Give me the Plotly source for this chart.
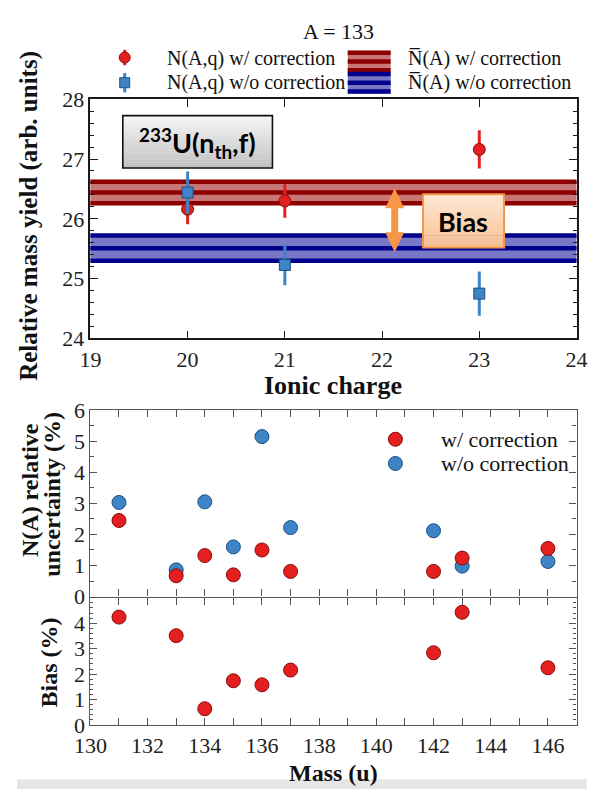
import plotly.graph_objects as go

# ---------------- data ----------------
charge = [20, 21, 23]
yield_corr = [26.16, 26.30, 27.16]
err_corr = [0.25, 0.28, 0.32]
yield_raw = [26.44, 25.23, 24.75]
err_raw = [0.35, 0.34, 0.37]

mean_corr, sig_corr = 26.44, 0.18
mean_raw, sig_raw = 25.51, 0.21

mass = [131, 133, 134, 135, 136, 137, 142, 143, 146]
unc_corr = [2.45, 0.67, 1.32, 0.70, 1.50, 0.81, 0.81, 1.24, 1.55]
unc_raw = [3.03, 0.86, 3.05, 1.60, 5.15, 2.22, 2.12, 0.98, 1.13]
bias_pct = [4.24, 3.51, 0.64, 1.74, 1.58, 2.16, 2.84, 4.43, 2.25]

charge_ticks = [19, 20, 21, 22, 23, 24]
unc_ticks = [0, 1, 2, 3, 4, 5, 6]
bias_ticks = [0, 1, 2, 3, 4]

# ---------------- page geometry ----------------
W, H = 598, 802
SERIF = "Liberation Serif"
SANS = "Lato"


def px(x):
    return x / W


def py(y):
    return 1 - y / H


RED = "#e3201f"
RED_EDGE = "#8a0c0c"
BLUE = "#3d85c6"
BLUE_EDGE = "#1d4f80"
BAND_RED_DARK = "#8c0000"
BAND_RED_FILL = "#c97676"
BAND_BLUE_DARK = "#00008c"
BAND_BLUE_FILL = "#7878c6"
ORANGE = "#f79646"

fig = go.Figure()

# ---------------- top panel: yield vs ionic charge ----------------
fig.add_trace(go.Scatter(
    x=charge, y=yield_corr, mode="markers", xaxis="x", yaxis="y",
    marker=dict(symbol="circle", size=12, color=RED, line=dict(color=RED_EDGE, width=1)),
    error_y=dict(type="data", array=err_corr, color=RED, thickness=3, width=0),
    showlegend=False))
fig.add_trace(go.Scatter(
    x=charge, y=yield_raw, mode="markers", xaxis="x", yaxis="y",
    marker=dict(symbol="square", size=11, color=BLUE, line=dict(color=BLUE_EDGE, width=1)),
    error_y=dict(type="data", array=err_raw, color=BLUE, thickness=3, width=0),
    showlegend=False))

# ---------------- middle panel: relative uncertainty ----------------
fig.add_trace(go.Scatter(
    x=mass, y=unc_raw, mode="markers", xaxis="x2", yaxis="y2",
    marker=dict(size=14, color=BLUE, line=dict(color=BLUE_EDGE, width=1)),
    showlegend=False))
fig.add_trace(go.Scatter(
    x=mass, y=unc_corr, mode="markers", xaxis="x2", yaxis="y2",
    marker=dict(size=14, color=RED, line=dict(color=RED_EDGE, width=1)),
    showlegend=False))

# ---------------- bottom panel: bias ----------------
fig.add_trace(go.Scatter(
    x=mass, y=bias_pct, mode="markers", xaxis="x3", yaxis="y3",
    marker=dict(size=14, color=RED, line=dict(color=RED_EDGE, width=1)),
    showlegend=False))

# ---------------- legend glyphs (pixel-space overlay axis) ----------------
fig.add_trace(go.Scatter(
    x=[113], y=[47], mode="markers", xaxis="x4", yaxis="y4",
    marker=dict(symbol="circle", size=11, color=RED, line=dict(color=RED_EDGE, width=1)),
    error_y=dict(type="data", array=[8], color=RED, thickness=3, width=0),
    showlegend=False, hoverinfo="skip"))
fig.add_trace(go.Scatter(
    x=[113], y=[73], mode="markers", xaxis="x4", yaxis="y4",
    marker=dict(symbol="square", size=10, color=BLUE, line=dict(color=BLUE_EDGE, width=1)),
    error_y=dict(type="data", array=[10], color=BLUE, thickness=3, width=0),
    showlegend=False, hoverinfo="skip"))
fig.add_trace(go.Scatter(
    x=[397, 397], y=[441, 466], mode="markers", xaxis="x4", yaxis="y4",
    marker=dict(size=14, color=[RED, BLUE], line=dict(color=[RED_EDGE, BLUE_EDGE], width=1)),
    showlegend=False, hoverinfo="skip"))

shapes = []


def band(mean, sig, dark, fill):
    # shaded +/- sigma band with edge and centre lines
    out = [dict(type="rect", xref="x domain", yref="y", x0=0, x1=1,
                y0=mean - sig, y1=mean + sig, fillcolor=fill,
                line=dict(width=0), layer="below")]
    for yv in (mean - sig, mean, mean + sig):
        out.append(dict(type="line", xref="x domain", yref="y", x0=0, x1=1,
                        y0=yv, y1=yv, line=dict(color=dark, width=4.5), layer="below"))
    return out


shapes += band(mean_corr, sig_corr, BAND_RED_DARK, BAND_RED_FILL)
shapes += band(mean_raw, sig_raw, BAND_BLUE_DARK, BAND_BLUE_FILL)


def swatch(x0, x1, y0, y1, dark, fill):
    out = [dict(type="rect", xref="paper", yref="paper", x0=px(x0), x1=px(x1),
                y0=py(y1), y1=py(y0), fillcolor=fill, line=dict(width=0))]
    for yv in (y0 + 2, (y0 + y1) / 2, y1 - 2):
        out.append(dict(type="line", xref="paper", yref="paper", x0=px(x0), x1=px(x1),
                        y0=py(yv), y1=py(yv), line=dict(color=dark, width=4.5)))
    return out


shapes += swatch(347, 392, 40, 62, BAND_RED_DARK, BAND_RED_FILL)
shapes += swatch(347, 392, 62, 84, BAND_BLUE_DARK, BAND_BLUE_FILL)


def hexmix(c0, c1, t):
    a = [int(c0[i:i + 2], 16) for i in (1, 3, 5)]
    b = [int(c1[i:i + 2], 16) for i in (1, 3, 5)]
    return "#" + "".join("%02x" % round(a[k] + (b[k] - a[k]) * t) for k in range(3))


def gradient_box(x0, y0, x1, y1, ctop, cbot, border, bw, n=18):
    out = []
    h = (y1 - y0) / n
    for i in range(n):
        out.append(dict(type="rect", xref="paper", yref="paper",
                        x0=px(x0), x1=px(x1), y0=py(y0 + (i + 1) * h + 0.3), y1=py(y0 + i * h),
                        fillcolor=hexmix(ctop, cbot, i / (n - 1)), line=dict(width=0),
                        layer="above"))
    out.append(dict(type="rect", xref="paper", yref="paper", x0=px(x0), x1=px(x1),
                    y0=py(y1), y1=py(y0), line=dict(color=border, width=bw),
                    fillcolor="rgba(0,0,0,0)", layer="above"))
    return out


shapes += gradient_box(111, 107, 268, 161, "#f5f5f5", "#c2c2c2", "#111111", 1.6)

# double arrow spanning the gap between the two averaged yields
shapes.append(dict(
    type="path", xref="x", yref="y", xsizemode="pixel", ysizemode="pixel",
    xanchor=22.13, yanchor=(mean_corr + mean_raw) / 2,
    path="M 0 32 L 9.5 12 L 3.5 12 L 3.5 -12 L 9.5 -12 L 0 -32 L -9.5 -12 "
         "L -3.5 -12 L -3.5 12 L -9.5 12 Z",
    fillcolor=ORANGE, line=dict(width=0), layer="above"))

shapes += gradient_box(426, 188, 511, 243, "#fee7d4", "#fbc393", ORANGE, 2)

# bottom grey strip
shapes.append(dict(type="rect", xref="paper", yref="paper", x0=0, x1=1,
                   y0=0, y1=py(792), fillcolor="#e6e6e6", line=dict(width=0), layer="below"))

ann = []


def text(x, y, s, size, family=SERIF, bold=False, xanchor="center", angle=0, color="#111"):
    ann.append(dict(x=px(x), y=py(y), xref="paper", yref="paper", text=s, showarrow=False,
                    xanchor=xanchor, yanchor="middle", textangle=angle,
                    font=dict(family=family, size=size, color=color,
                              weight="bold" if bold else "normal")))


text(337, 20, "A = 133", 22)
text(155, 48, "N(A,q) w/ correction", 20, xanchor="left")
text(155, 73, "N(A,q) w/o correction", 20, xanchor="left")
text(408, 48, "N\u0305(A) w/ correction", 20, xanchor="left")
text(408, 73, "N\u0305(A) w/o correction", 20, xanchor="left")

text(189, 135, "<sup>233</sup>U(n<sub>th</sub>,f)", 27, family=SANS, bold=True, color="#000")
text(468, 216, "Bias", 27, family=SANS, bold=True, color="#000")

text(443, 441, "w/ correction", 22, xanchor="left")
text(443, 466, "w/o correction", 22, xanchor="left")

text(13, 210, "Relative mass yield (arb. units)", 25, bold=True, angle=-90)
text(332, 386, "Ionic charge", 26, bold=True)
text(13, 493, "N(A) relative", 24, bold=True, angle=-90)
text(37, 498, "uncertainty (%)", 24, bold=True, angle=-90)
text(34, 671, "Bias (%)", 24, bold=True, angle=-90)
text(332, 786, "Mass (u)", 24, bold=True)

TICKFONT = dict(family=SERIF, size=22, color="#222")
XD = [px(77), px(587)]
FRAME_TOP = "#1a1a1a"
FRAME = "#555555"

common_top = dict(showline=True, linecolor=FRAME_TOP, linewidth=1.5, mirror="ticks",
                  ticks="inside", tickcolor=FRAME_TOP, ticklen=8, tickwidth=1.2,
                  showgrid=False, zeroline=False, tickfont=TICKFONT)
common = dict(showline=True, linecolor=FRAME, linewidth=1.2, mirror="ticks",
              ticks="inside", tickcolor=FRAME, ticklen=7, tickwidth=1.2,
              showgrid=False, zeroline=False, tickfont=TICKFONT)

fig.update_layout(
    width=W, height=H, margin=dict(l=0, r=0, t=0, b=0),
    paper_bgcolor="white", plot_bgcolor="rgba(0,0,0,0)",
    showlegend=False,
    xaxis=dict(domain=XD, anchor="y", range=[19, 24], tickvals=charge_ticks, **common_top),
    yaxis=dict(domain=[py(337), py(90)], anchor="x", range=[24, 28], dtick=1,
               minor=dict(dtick=0.2, ticks="inside", ticklen=4, tickcolor=FRAME_TOP),
               **common_top),
    xaxis2=dict(domain=XD, anchor="y2", range=[130, 147], dtick=2, showticklabels=False,
                minor=dict(dtick=1, ticks="inside", ticklen=7, tickcolor=FRAME), **common),
    yaxis2=dict(domain=[py(603.4), py(411)], anchor="x2", range=[0, 6], tickvals=unc_ticks,
                minor=dict(dtick=0.5, ticks="inside", ticklen=4, tickcolor=FRAME), **common),
    xaxis3=dict(domain=XD, anchor="y3", range=[130, 147], dtick=2,
                minor=dict(dtick=1, ticks="inside", ticklen=7, tickcolor=FRAME), **common),
    yaxis3=dict(domain=[py(736), py(604.6)], anchor="x3", range=[0, 5], tickvals=bias_ticks,
                minor=dict(dtick=0.2, ticks="inside", ticklen=3, tickcolor=FRAME), **common),
    xaxis4=dict(domain=[0, 1], anchor="y4", range=[0, W], visible=False, fixedrange=True),
    yaxis4=dict(domain=[0, 1], anchor="x4", range=[H, 0], visible=False, fixedrange=True),
    shapes=shapes, annotations=ann,
)

fig.write_html("out.html", post_script="document.body.style.margin='0';")
